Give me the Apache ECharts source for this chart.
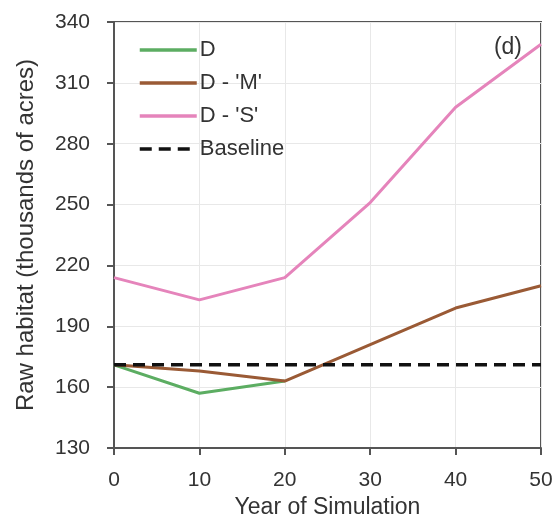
<!DOCTYPE html>
<html>
<head>
<meta charset="utf-8">
<script src="https://cdn.jsdelivr.net/npm/echarts@6/dist/echarts.min.js"></script>
<style>
html, body { margin: 0; padding: 0; background: #fff; }
#main { width: 558px; height: 516px; }
</style>
</head>
<body>
<div id="main"></div>
<script>
var years = [0, 10, 20, 30, 40, 50];
var dVals = [171, 157, 163];
var dmVals = [171, 168, 163, 181, 199, 210];
var dsVals = [214, 203, 214, 251, 298, 329];
var baseVals = [171, 171, 171, 171, 171, 171];

function pairs(vals) {
	var out = [];
	for (var i = 0; i < vals.length; i++) {
		out.push([years[i], vals[i]]);
	}
	return out;
}

var font = 'Liberation Sans, Arial, sans-serif';
var myChart = echarts.init(document.getElementById('main'));
var option = {
	animation : false,
	backgroundColor : '#fff',
	title : {
		text : '(d)',
		right : 36,
		top : 36,
		padding : 0,
		textStyle : { fontFamily : font, fontSize : 23, fontWeight : 'normal', color : '#333' }
	},
	legend : {
		orient : 'vertical',
		left : 138,
		top : 39,
		padding : 0,
		itemWidth : 57,
		itemHeight : 14,
		itemGap : 11,
		itemStyle : { opacity : 0 },
		lineStyle : { width : 3.5 },
		textStyle : { fontFamily : font, fontSize : 22, lineHeight : 22, color : '#333', padding : [0, 0, 0, -2] },
		data : [ 'D', "D - 'M'", "D - 'S'", 'Baseline' ]
	},
	grid : {
		left : 114,
		right : 17,
		top : 22,
		bottom : 68,
		outerBoundsMode : 'none',
		show : true,
		borderColor : '#555',
		borderWidth : 2
	},
	xAxis : {
		type : 'value',
		min : 0,
		max : 50,
		interval : 10,
		name : 'Year of Simulation',
		nameLocation : 'middle',
		nameGap : 37,
		nameTextStyle : { fontFamily : font, fontSize : 23, color : '#333' },
		axisLine : { lineStyle : { color : '#555', width : 2 } },
		axisTick : { show : true, length : 7, lineStyle : { color : '#555', width : 2 } },
		axisLabel : { fontFamily : font, fontSize : 21, color : '#333', margin : 22 },
		splitLine : { show : true, lineStyle : { color : '#e8e8e8' } }
	},
	yAxis : {
		type : 'value',
		min : 130,
		max : 340,
		interval : 30,
		name : 'Raw habitat (thousands of acres)',
		nameLocation : 'middle',
		nameGap : 76,
		nameTextStyle : { fontFamily : font, fontSize : 24, color : '#333' },
		axisLine : { show : true, lineStyle : { color : '#555', width : 2 } },
		axisTick : { show : true, length : 7, lineStyle : { color : '#555', width : 2 } },
		axisLabel : { fontFamily : font, fontSize : 21, color : '#333', margin : 24 },
		splitLine : { show : true, lineStyle : { color : '#e8e8e8' } }
	},
	series : [ {
		name : 'D',
		type : 'line',
		symbol : 'none',
		data : pairs(dVals),
		lineStyle : { color : '#5cad62', width : 3 },
		itemStyle : { color : '#5cad62' }
	}, {
		name : "D - 'M'",
		type : 'line',
		symbol : 'none',
		data : pairs(dmVals),
		lineStyle : { color : '#9a5a35', width : 3 },
		itemStyle : { color : '#9a5a35' }
	}, {
		name : "D - 'S'",
		type : 'line',
		symbol : 'none',
		data : pairs(dsVals),
		lineStyle : { color : '#e584bb', width : 3 },
		itemStyle : { color : '#e584bb' }
	}, {
		name : 'Baseline',
		type : 'line',
		symbol : 'none',
		z : 5,
		data : pairs(baseVals),
		lineStyle : { color : '#111', width : 3.5, type : [12, 7] },
		itemStyle : { color : '#111' }
	} ]
};
myChart.setOption(option);
</script>
</body>
</html>
